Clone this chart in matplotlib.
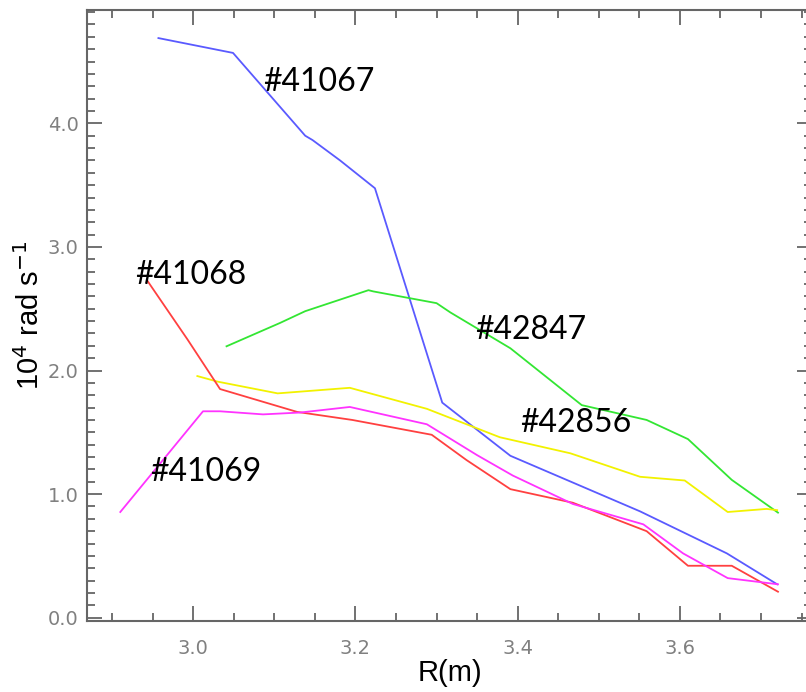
import numpy as np
import matplotlib
matplotlib.use("Agg")
import matplotlib.pyplot as plt
from matplotlib.ticker import MultipleLocator

# rotation profiles, R in m, omega in 1e4 rad/s
r_41067 = [2.957, 3.049, 3.138, 3.147, 3.181, 3.224, 3.307, 3.391, 3.551, 3.658, 3.720]
w_41067 = [4.69, 4.57, 3.90, 3.865, 3.70, 3.475, 1.74, 1.31, 0.86, 0.52, 0.27]

r_42847 = [3.041, 3.107, 3.138, 3.216, 3.222, 3.300, 3.317, 3.391, 3.479, 3.559, 3.610, 3.664, 3.721]
w_42847 = [2.196, 2.385, 2.48, 2.65, 2.64, 2.545, 2.47, 2.18, 1.72, 1.60, 1.445, 1.115, 0.85]

r_42856 = [3.005, 3.030, 3.104, 3.114, 3.193, 3.288, 3.378, 3.465, 3.551, 3.606, 3.659, 3.707, 3.720]
w_42856 = [1.955, 1.91, 1.815, 1.82, 1.86, 1.69, 1.46, 1.33, 1.14, 1.11, 0.855, 0.88, 0.87]

r_41068 = [2.943, 2.993, 3.013, 3.033, 3.128, 3.196, 3.294, 3.337, 3.391, 3.468, 3.559, 3.610, 3.664, 3.721]
w_41068 = [2.73, 2.25, 2.05, 1.85, 1.665, 1.60, 1.48, 1.275, 1.04, 0.93, 0.70, 0.42, 0.42, 0.21]

r_41069 = [2.910, 3.012, 3.033, 3.086, 3.132, 3.193, 3.288, 3.350, 3.394, 3.468, 3.555, 3.604, 3.659, 3.721]
w_41069 = [0.855, 1.67, 1.67, 1.645, 1.66, 1.705, 1.565, 1.315, 1.15, 0.92, 0.755, 0.52, 0.32, 0.27]

shots = ["#41067", "#41068", "#42847", "#42856", "#41069"]
label_x = [3.086, 2.9285, 3.3475, 3.403, 2.947]
label_y = [4.334, 2.773, 2.328, 1.575, 1.179]

fig = plt.figure(figsize=(8.06, 6.92), dpi=100)
# right edge of the frame sits just outside the picture, as in the original
ax = fig.add_axes([0.108, 0.1026, 0.8995, 0.8829])

ax.plot(r_41067, w_41067, color='#5a5aff', lw=1.3)
ax.plot(r_42847, w_42847, color='#33e633', lw=1.3)
ax.plot(r_42856, w_42856, color='#f2f200', lw=1.3)
ax.plot(r_41068, w_41068, color='#ff4040', lw=1.3)
ax.plot(r_41069, w_41069, color='#ff33ff', lw=1.3)

for s, lx, ly in zip(shots, label_x, label_y):
    ax.text(lx, ly, s, fontsize=23, family='Lato', ha='left', va='center', color='black')

ax.set_xlim(2.869, 3.763)
ax.set_ylim(-0.027, 4.917)
ax.set_xticks([3.0, 3.2, 3.4, 3.6])
ax.set_yticks([0.0, 1.0, 2.0, 3.0, 4.0])
ax.set_xticklabels(['3.0', '3.2', '3.4', '3.6'])
ax.set_yticklabels(['0.0', '1.0', '2.0', '3.0', '4.0'])
ax.xaxis.set_minor_locator(MultipleLocator(0.05))
ax.yaxis.set_minor_locator(MultipleLocator(0.1))

grey = '#666666'
for sp in ax.spines.values():
    sp.set_color(grey)
    sp.set_linewidth(1.5)
ax.tick_params(which='both', direction='in', top=True, right=True, color=grey, width=1.3,
               labelcolor='#808080', labelsize=14)
ax.tick_params(which='major', length=11)
ax.tick_params(which='minor', length=6)
ax.tick_params(axis='x', pad=13)
ax.tick_params(axis='y', pad=6)

ax.set_xlabel("R(m)", fontsize=21, family='Liberation Sans', labelpad=1)
ax.set_ylabel("10$^{4}$ rad s$^{-1}$", fontsize=21, family='Liberation Sans', labelpad=2)

fig.savefig("out.png", dpi=100)
